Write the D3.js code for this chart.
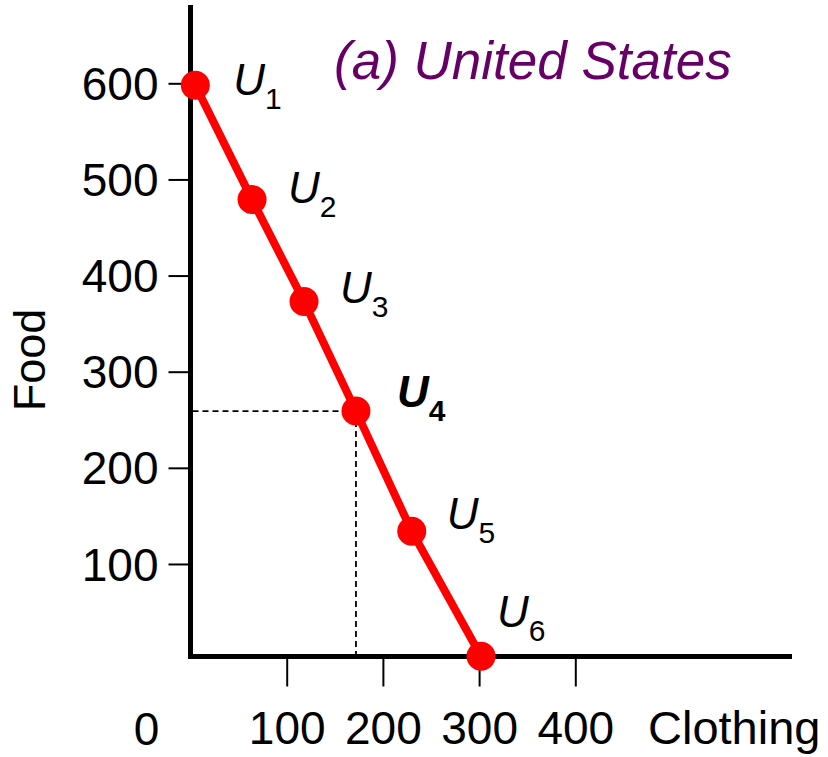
<!DOCTYPE html>
<html>
<head>
<meta charset="utf-8">
<script src="https://cdn.jsdelivr.net/npm/d3@7"></script>
<style>
  html, body { margin: 0; padding: 0; background: #fff; }
  svg { display: block; font-family: "Liberation Sans", Arial, sans-serif; }
</style>
</head>
<body>
<svg id="chart" width="828" height="757"></svg>
<script>
// ---- data ----
const pointNames = ["1", "2", "3", "4", "5", "6"];
const clothing = [5, 64, 118, 172, 230, 302];
const food = [598, 479, 373, 259, 134, 4];
const highlightIndex = 3;             // U4 is bold + dashed guides
const xTicks = [100, 200, 300, 400];
const yTicks = [100, 200, 300, 400, 500, 600];
const originLabel = "0";
const xTitle = "Clothing";
const yTitle = "Food";
const chartTitle = "(a) United States";

// label offsets (px) relative to each dot – layout only
const labelDx = [38, 36, 36, 41, 35, 16];
const labelDy = [10, 3, 1, -4, -2, -29];

const svg = d3.select("#chart");
const x = d3.scaleLinear().domain([0, 400]).range([190.5, 575.3]);
const y = d3.scaleLinear().domain([0, 600]).range([660.1, 83.3]);
const axisY = 656.5;

// y axis ticks + labels
const gy = svg.append("g").attr("transform", `translate(${x(0)},0)`)
  .call(d3.axisLeft(y).tickValues(yTicks).tickSize(22).tickPadding(10).tickFormat(d3.format("d")));
gy.select(".domain").remove();
gy.selectAll(".tick line").attr("stroke", "#000").attr("stroke-width", 2);
gy.selectAll(".tick text").attr("font-size", 46).attr("fill", "#000")
  .attr("font-family", "Liberation Sans, Arial, sans-serif").attr("dy", "0.35em");

// x axis ticks + labels
const gx = svg.append("g").attr("transform", `translate(0,${axisY})`)
  .call(d3.axisBottom(x).tickValues(xTicks).tickSize(30).tickPadding(25).tickFormat(d3.format("d")));
gx.select(".domain").remove();
gx.selectAll(".tick line").attr("stroke", "#000").attr("stroke-width", 2);
gx.selectAll(".tick text").attr("font-size", 46).attr("fill", "#000")
  .attr("font-family", "Liberation Sans, Arial, sans-serif");

// origin label
svg.append("text").attr("x", x(0) - 44).attr("y", 745)
  .attr("text-anchor", "middle").attr("font-size", 46).text(originLabel);

// axis lines
svg.append("line").attr("x1", x(0)).attr("x2", x(0)).attr("y1", 5).attr("y2", axisY + 2.5)
  .attr("stroke", "#000").attr("stroke-width", 5);
svg.append("line").attr("x1", x(0) - 2.5).attr("x2", 792).attr("y1", axisY).attr("y2", axisY)
  .attr("stroke", "#000").attr("stroke-width", 5);

// axis titles
svg.append("text").attr("x", 648).attr("y", 744).attr("font-size", 47).text(xTitle);
svg.append("text").attr("transform", "translate(45,360) rotate(-90)")
  .attr("text-anchor", "middle").attr("font-size", 45).text(yTitle);

// chart title
svg.append("text").attr("x", 334).attr("y", 79).attr("font-size", 53)
  .attr("font-style", "italic").attr("fill", "#660066").text(chartTitle);

// dashed guides to highlighted point
const hx = x(clothing[highlightIndex]), hy = y(food[highlightIndex]);
svg.append("line").attr("x1", x(0) + 2).attr("x2", hx).attr("y1", hy).attr("y2", hy)
  .attr("stroke", "#000").attr("stroke-width", 1.8).attr("stroke-dasharray", "6,4");
svg.append("line").attr("x1", hx).attr("x2", hx).attr("y1", hy).attr("y2", axisY - 2)
  .attr("stroke", "#000").attr("stroke-width", 1.8).attr("stroke-dasharray", "6,4");

// line
const pts = clothing.map((c, i) => [c, food[i]]);
svg.append("path").datum(pts)
  .attr("d", d3.line().x(d => x(d[0])).y(d => y(d[1])))
  .attr("fill", "none").attr("stroke", "#ff0000").attr("stroke-width", 8);

// dots
svg.selectAll("circle.pt").data(pts).join("circle").attr("class", "pt")
  .attr("cx", d => x(d[0])).attr("cy", d => y(d[1])).attr("r", 14.5).attr("fill", "#ff0000");

// labels
pts.forEach((d, i) => {
  const bold = i === highlightIndex;
  const t = svg.append("text")
    .attr("x", x(d[0]) + labelDx[i]).attr("y", y(d[1]) + labelDy[i])
    .attr("font-size", 44).attr("font-weight", bold ? "bold" : "normal");
  t.append("tspan").attr("font-style", "italic").text("U");
  t.append("tspan").attr("font-size", 30).attr("dy", 14).text(pointNames[i]);
});
</script>
</body>
</html>
